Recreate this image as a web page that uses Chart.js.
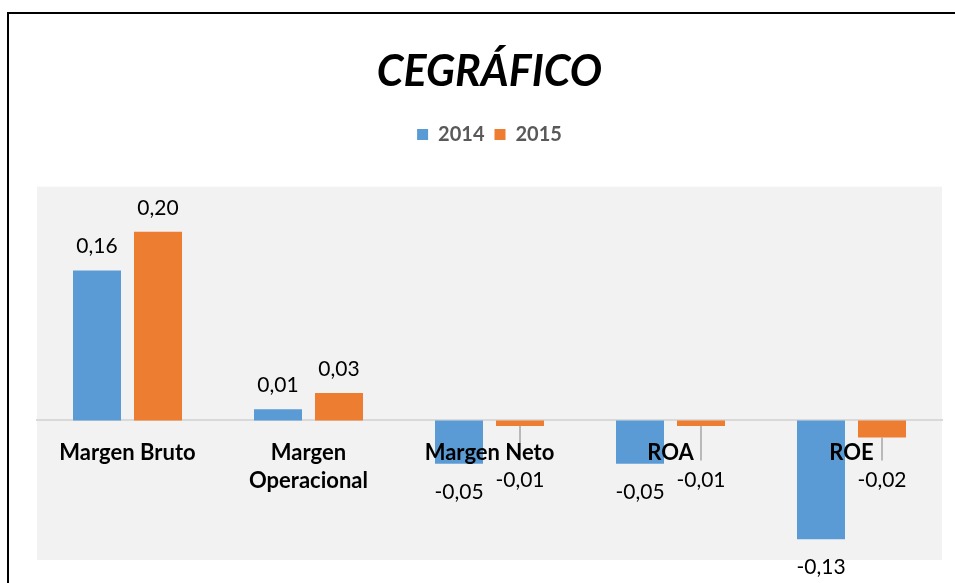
<!DOCTYPE html>
<html>
<head>
<meta charset="utf-8">
<script src="https://cdn.jsdelivr.net/npm/chart.js@4.4.1/dist/chart.umd.min.js"></script>
<style>
  html, body { margin: 0; padding: 0; background: #fff; }
  #wrap { position: relative; width: 955px; height: 583px; overflow: hidden; }
  #frame { position: absolute; left: 7px; top: 12px; width: 970px; height: 600px; border: 2px solid #000; box-sizing: border-box; pointer-events: none; }
  canvas { position: absolute; left: 0; top: 0; }
</style>
</head>
<body>
<div id="wrap">
  <canvas id="chart" width="955" height="583"></canvas>
  <div id="frame"></div>
</div>
<script>
const categories = [['Margen Bruto'], ['Margen', 'Operacional'], ['Margen Neto'], ['ROA'], ['ROE']];
const series2014 = [0.159, 0.012, -0.046, -0.046, -0.126];
const series2015 = [0.200, 0.029, -0.006, -0.006, -0.018];
const seriesNames = ['2014', '2015'];

const FONT = 'Lato, "Open Sans", sans-serif';

const fmt = v => v.toFixed(2).replace('.', ',');

// light grey plot background
const plotBg = {
  id: 'plotBg',
  beforeDraw(chart) {
    const { ctx, chartArea: a } = chart;
    ctx.save();
    ctx.fillStyle = '#F2F2F2';
    ctx.fillRect(a.left, a.top, a.right - a.left, a.bottom - a.top);
    ctx.restore();
  }
};

// value labels above / below bars, leader line when pushed away
const valueLabels = {
  id: 'valueLabels',
  afterDatasetsDraw(chart) {
    const ctx = chart.ctx;
    ctx.save();
    ctx.font = '21px ' + FONT;
    ctx.fillStyle = '#000';
    ctx.textAlign = 'center';
    ctx.textBaseline = 'middle';
    chart.data.datasets.forEach((ds, i) => {
      chart.getDatasetMeta(i).data.forEach((bar, j) => {
        const v = ds.data[j];
        let y;
        if (v >= 0) {
          y = bar.y - 24;
        } else {
          y = Math.max(bar.y + 28, bar.base + 60);
          if (y - bar.y > 40) {
            ctx.strokeStyle = '#A6A6A6';
            ctx.lineWidth = 1.5;
            ctx.beginPath();
            ctx.moveTo(bar.x, bar.y);
            ctx.lineTo(bar.x, y - 20);
            ctx.stroke();
          }
        }
        ctx.fillText(fmt(v), bar.x, y);
      });
    });
    ctx.restore();
  }
};

new Chart(document.getElementById('chart'), {
  type: 'bar',
  data: {
    labels: categories,
    datasets: [{
      label: seriesNames[0],
      data: series2014,
      backgroundColor: '#5B9BD5'
    }, {
      label: seriesNames[1],
      data: series2015,
      backgroundColor: '#ED7D31'
    }]
  },
  options: {
    responsive: false,
    animation: false,
    categoryPercentage: 0.674,
    barPercentage: 0.787,
    layout: { padding: { left: 37, right: 13, top: 0, bottom: 23 } },
    plugins: {
      title: {
        display: true,
        text: 'CEGRÁFICO',
        color: '#000',
        font: { family: FONT, size: 43, weight: 'bold', style: 'italic' },
        padding: { top: 46, bottom: 17 }
      },
      // empty spacer between legend and plot area
      subtitle: {
        display: true,
        text: '',
        weight: 500,
        font: { size: 10, lineHeight: 1 },
        padding: { top: 0, bottom: 22 }
      },
      legend: {
        labels: {
          boxWidth: 11,
          boxHeight: 11,
          color: '#595959',
          font: { family: FONT, size: 20, weight: 'bold' },
          padding: 10
        }
      },
      tooltip: { enabled: false }
    },
    scales: {
      x: {
        position: { y: 0 },
        grid: { display: false },
        border: { color: '#D9D9D9', width: 2 },
        ticks: {
          z: 1,
          color: '#000',
          font: { family: FONT, size: 22, weight: 'bold', lineHeight: 1.3 },
          padding: 10,
          maxRotation: 0,
          autoSkip: false
        }
      },
      y: {
        display: false,
        min: -0.148,
        max: 0.248
      }
    }
  },
  plugins: [plotBg, valueLabels]
});
</script>
</body>
</html>
